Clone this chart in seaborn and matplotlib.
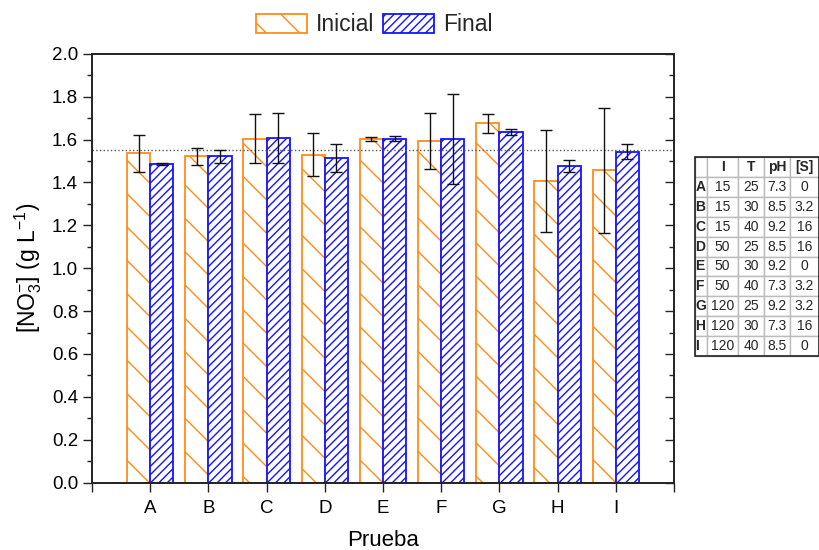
import pandas as pd
import matplotlib.pyplot as plt
from matplotlib.patches import Patch, Rectangle
import seaborn as sns

# Datos
pruebas = ['A', 'B', 'C', 'D', 'E', 'F', 'G', 'H', 'I']
inicial = [1.535, 1.521, 1.604, 1.530, 1.602, 1.593, 1.675, 1.406, 1.456]
err_inicial = [0.088, 0.040, 0.114, 0.099, 0.010, 0.130, 0.043, 0.238, 0.290]
final = [1.486, 1.522, 1.607, 1.513, 1.604, 1.604, 1.635, 1.477, 1.544]
err_final = [0.003, 0.030, 0.117, 0.066, 0.010, 0.210, 0.016, 0.027, 0.037]
promedio = 1.55

# Condiciones de cada prueba (tabla)
col_I = ['15', '15', '15', '50', '50', '50', '120', '120', '120']
col_T = ['25', '30', '40', '25', '30', '40', '25', '30', '40']
col_pH = ['7.3', '8.5', '9.2', '8.5', '9.2', '7.3', '9.2', '7.3', '8.5']
col_S = ['0', '3.2', '16', '16', '0', '3.2', '3.2', '16', '0']

naranja = '#FF8C1A'
azul = '#1414FF'

sns.set_style('ticks')
plt.rcParams['font.family'] = ['Liberation Sans', 'DejaVu Sans']
plt.rcParams['mathtext.fontset'] = 'custom'
plt.rcParams['mathtext.rm'] = 'Liberation Sans'
plt.rcParams['mathtext.it'] = 'Liberation Sans'
plt.rcParams['hatch.linewidth'] = 1.0

df = pd.DataFrame({
    'Prueba': pruebas * 2,
    'NO3': inicial + final,
    'Serie': ['Inicial'] * len(pruebas) + ['Final'] * len(pruebas),
})

fig = plt.figure(figsize=(8.19, 5.5), dpi=100)
ax = fig.add_axes([92 / 819, 1 - 482.7 / 550, (674 - 92) / 819, (482.7 - 53.7) / 550])

sns.barplot(data=df, x='Prueba', y='NO3', hue='Serie', order=pruebas,
            hue_order=['Inicial', 'Final'], palette=[naranja, azul],
            errorbar=None, width=0.8, ax=ax)

# barras huecas con rayado
estilos = [(naranja, '\\'), (azul, '////')]
errores = [err_inicial, err_final]
valores = [inicial, final]
for cont, (col, hatch), vals, errs in zip(ax.containers, estilos, valores, errores):
    xs = []
    for p in cont.patches:
        p.set_facecolor('white')
        p.set_edgecolor(col)
        p.set_hatch(hatch)
        p.set_linewidth(1.3)
        xs.append(p.get_x() + p.get_width() / 2)
    ax.errorbar(xs, vals, yerr=errs, fmt='none', ecolor='#111111',
                elinewidth=1.0, capsize=4, capthick=1.0, zorder=5)

ax.axhline(promedio, color='#555555', ls=':', lw=1.0, zorder=1)

ax.legend_.remove()
handles = [Patch(facecolor='white', edgecolor=naranja, hatch='\\', lw=1.3),
           Patch(facecolor='white', edgecolor=azul, hatch='////', lw=1.3)]
fig.legend(handles, ['Inicial', 'Final'], loc='center', bbox_to_anchor=(0.457, 0.955),
           ncol=2, frameon=False, fontsize=16.5, handlelength=2.2, handleheight=0.9,
           handletextpad=0.4, columnspacing=0.4)

ax.set_xlim(-1, 9)
ax.set_xticks(range(-1, 10))
ax.set_xticklabels([''] + pruebas + [''])
ax.set_ylim(0, 2.0)
ax.set_yticks([0.0, 0.2, 0.4, 0.6, 0.8, 1.0, 1.2, 1.4, 1.6, 1.8, 2.0])
ax.set_yticks([0.1, 0.3, 0.5, 0.7, 0.9, 1.1, 1.3, 1.5, 1.7, 1.9], minor=True)
ax.yaxis.set_major_formatter(plt.FormatStrFormatter('%.1f'))
ax.tick_params(axis='both', which='major', length=6.5, width=1.0, labelsize=13.5,
               color='#222222', labelcolor='black')
ax.tick_params(axis='y', which='minor', length=3.5, width=1.0, color='#222222')
ax.tick_params(axis='x', pad=6)

# eje derecho con marcas hacia dentro
ax2 = ax.twinx()
ax2.set_ylim(ax.get_ylim())
ax2.set_yticks(ax.get_yticks())
ax2.set_yticks([0.1, 0.3, 0.5, 0.7, 0.9, 1.1, 1.3, 1.5, 1.7, 1.9], minor=True)
ax2.tick_params(axis='y', which='major', direction='in', length=6.5, width=1.0, labelright=False)
ax2.tick_params(axis='y', which='minor', direction='in', length=3.5, width=1.0)

for a in (ax, ax2):
    for s in a.spines.values():
        s.set_visible(True)
        s.set_linewidth(1.2)
        s.set_color('#222222')

ax.set_xlabel('Prueba', fontsize=16, labelpad=9, color='black')
ax.set_ylabel(r'[NO$_3^{-}$] (g L$^{-1}$)', fontsize=16.5, labelpad=6, color='black')

# tabla de condiciones
tab_ax = fig.add_axes([695 / 819, 1 - 356 / 550, 124 / 819, (356 - 157) / 550])
tab_ax.axis('off')
filas = [[p, a, b, c, d] for p, a, b, c, d in zip(pruebas, col_I, col_T, col_pH, col_S)]
tabla = tab_ax.table(cellText=filas, colLabels=['', 'I', 'T', 'pH', '[S]'],
                     colWidths=[12, 31, 26, 26, 29], cellLoc='center', bbox=[0, 0, 1, 1])
tabla.auto_set_font_size(False)
tabla.set_fontsize(10)
for (r, c), cell in tabla.get_celld().items():
    cell.set_edgecolor('#bbbbbb')
    cell.set_linewidth(1.0)
    cell.PAD = 0.02
    if r == 0 or c == 0:
        cell.get_text().set_fontweight('bold')
    if c == 0:
        cell.get_text().set_ha('left')
tab_ax.add_patch(Rectangle((0, 0), 1, 1, transform=tab_ax.transAxes, fill=False,
                           edgecolor='#222222', lw=1.2, clip_on=False))

fig.savefig('out.png', dpi=100)
